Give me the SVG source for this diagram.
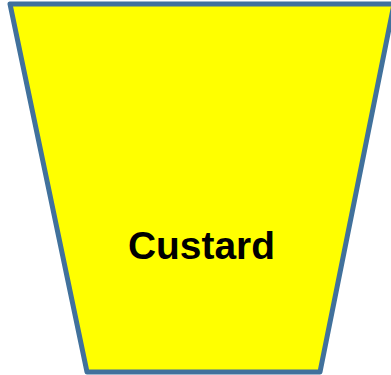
<svg xmlns="http://www.w3.org/2000/svg" width="391" height="375" viewBox="0 0 391 375">
<style>
.shape{fill:#FFFF00;stroke:#41719C;stroke-width:5;stroke-linejoin:round}
.label{font-family:"Liberation Sans",Arial,sans-serif;font-weight:bold;font-size:38px;fill:#000}
</style>
<rect width="391" height="375" fill="#fff"/>
<g id="custard">
<polygon class="shape" points="10,4 394,4 320,372 87,372"/>
<text class="label" x="201.5" y="259" text-anchor="middle" textLength="147" lengthAdjust="spacingAndGlyphs">Custard</text>
</g>
</svg>
